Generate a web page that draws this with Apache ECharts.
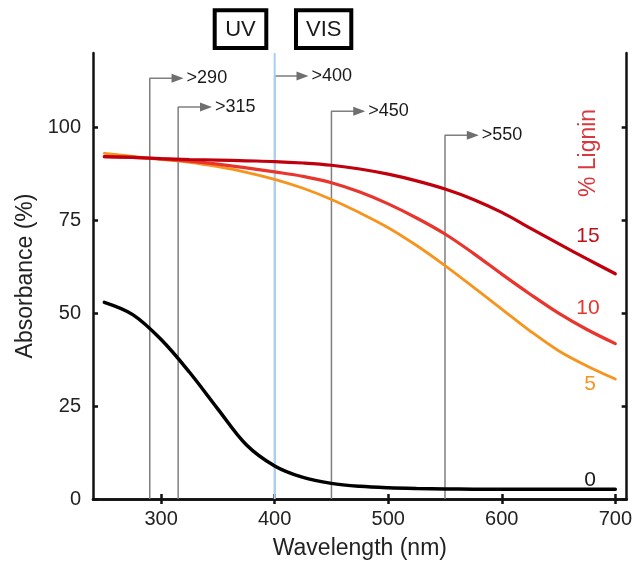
<!DOCTYPE html>
<html>
<head>
<meta charset="utf-8">
<script src="https://cdn.jsdelivr.net/npm/echarts@6/dist/echarts.min.js"></script>
<style>html,body{margin:0;padding:0;background:#fff;}#c{width:635px;height:565px;}</style>
</head>
<body>
<div id="c"></div>
<script>
// ---- data ----
const wavelengths = [250, 275, 300, 325, 350, 375, 400, 425, 450, 475, 500, 525, 550, 575, 600, 625, 650, 675, 700];
const lignin15 = [92.1, 91.9, 91.6, 91.35, 91.2, 91.0, 90.8, 90.4, 89.8, 88.8, 87.4, 85.6, 83.4, 80.6, 77.1, 72.9, 68.7, 64.6, 60.6];
const lignin10 = [92.1, 91.9, 91.5, 90.9, 90.1, 89.1, 88.0, 86.8, 85.1, 82.6, 79.4, 75.6, 71.3, 66.1, 60.5, 55.1, 50.0, 45.6, 41.8];
const lignin5  = [93.0, 92.2, 91.4, 90.6, 89.4, 87.9, 86.0, 83.6, 80.6, 77.0, 73.0, 68.2, 62.8, 57.0, 51.1, 45.2, 39.9, 35.8, 32.3];
const lignin0  = [52.9, 49.6, 42.9, 34.1, 24.2, 14.6, 8.9, 5.8, 4.2, 3.4, 3.0, 2.8, 2.7, 2.65, 2.6, 2.6, 2.6, 2.6, 2.6];
const cutoffWavelengths = [290, 315, 400, 450, 550];
const cutoffLevels = [113.2, 105.5, 113.8, 104.3, 97.9];
const cutoffLabels = ['>290', '>315', '>400', '>450', '>550'];
const xTicks = [300, 400, 500, 600, 700];
const yTicks = [0, 25, 50, 75, 100];
const uvVisBoundary = 400;

// ---- chart ----
const FONT = 'Liberation Sans, Arial, sans-serif';
const chart = echarts.init(document.getElementById('c'), null, {renderer: 'canvas'});
const pairs = (ys) => wavelengths.map((w, i) => [w, ys[i]]);
const arrowLen = 24.5;

const series = [];
cutoffWavelengths.forEach((w, i) => {
  series.push({
    type: 'line', symbol: 'none', showSymbol: true, silent: true, animation: false,
    lineStyle: {color: '#7f7f7f', width: 1.5}, z: 1,
    data: [
      [w, 0], [w, cutoffLevels[i]],
      {value: [w + arrowLen, cutoffLevels[i]], symbol: 'triangle', symbolSize: [9, 12], symbolRotate: -90,
       itemStyle: {color: '#6f6f6f'},
       label: {show: true, position: 'right', distance: 3, formatter: cutoffLabels[i], color: '#1a1a1a', fontSize: 18, fontFamily: FONT}}
    ]
  });
});
series.push({
  type: 'line', symbol: 'none', silent: true, animation: false, z: 2,
  lineStyle: {color: '#a9d0f2', width: 2},
  data: [[uvVisBoundary, 0], [uvVisBoundary, 120]]
});
const curve = (ys, color, width) => ({
  type: 'line', symbol: 'none', smooth: 0.35, animation: false, z: 5,
  lineStyle: {color: color, width: width, cap: 'round'}, data: pairs(ys)
});
series.push(curve(lignin0, '#000000', 3.5));
series.push(curve(lignin5, '#f7941d', 2.8));
series.push(curve(lignin10, '#e8352e', 3.2));
series.push(curve(lignin15, '#c0000c', 3.2));

const axisLineStyle = {color: '#111', width: 2.5};
const tickStyle = {inside: true, length: 5, lineStyle: {color: '#111', width: 2.5}};

chart.setOption({
  backgroundColor: '#fff',
  animation: false,
  grid: {left: 93, right: 8, top: 53, bottom: 65, containLabel: false},
  xAxis: [
    {type: 'value', min: 240, max: 710, position: 'bottom',
     name: 'Wavelength (nm)', nameLocation: 'middle', nameGap: 38,
     nameTextStyle: {fontSize: 23, color: '#222', fontFamily: FONT},
     axisLine: {lineStyle: axisLineStyle},
     axisTick: Object.assign({customValues: xTicks}, tickStyle),
     axisLabel: {customValues: xTicks, fontSize: 20, color: '#222', margin: 10, fontFamily: FONT},
     splitLine: {show: false}},
    {type: 'value', min: 240, max: 710, position: 'top',
     axisLine: {lineStyle: axisLineStyle},
     axisTick: Object.assign({customValues: xTicks}, tickStyle),
     axisLabel: {show: false}, splitLine: {show: false}}
  ],
  yAxis: [
    {type: 'value', min: 0, max: 120, position: 'left',
     name: 'Absorbance (%)', nameLocation: 'middle', nameGap: 54, nameRotate: 90,
     nameTextStyle: {fontSize: 23, color: '#222', fontFamily: FONT},
     axisLine: {show: true, lineStyle: axisLineStyle},
     axisTick: Object.assign({customValues: yTicks}, tickStyle),
     axisLabel: {customValues: yTicks, fontSize: 20, color: '#222', margin: 12, fontFamily: FONT},
     splitLine: {show: false}},
    {type: 'value', min: 0, max: 120, position: 'right',
     axisLine: {show: true, lineStyle: axisLineStyle},
     axisTick: Object.assign({customValues: yTicks}, tickStyle),
     axisLabel: {show: false}, splitLine: {show: false}}
  ],
  series: series,
  graphic: [
    {type: 'rect', shape: {x: 214.7, y: 10.3, width: 51.6, height: 37.7}, style: {fill: '#fff', stroke: '#000', lineWidth: 4}},
    {type: 'text', x: 240.5, y: 30, style: {text: 'UV', fill: '#1a1a1a', font: '22px ' + FONT, align: 'center', verticalAlign: 'middle'}},
    {type: 'rect', shape: {x: 296, y: 10.3, width: 55.3, height: 37.7}, style: {fill: '#fff', stroke: '#000', lineWidth: 4}},
    {type: 'text', x: 323.7, y: 30, style: {text: 'VIS', fill: '#1a1a1a', font: '22px ' + FONT, align: 'center', verticalAlign: 'middle'}},
    {type: 'text', x: 589, y: 153, rotation: Math.PI / 2, style: {text: '% Lignin', fill: '#d8393e', font: '23px ' + FONT, align: 'center', verticalAlign: 'middle'}},
    {type: 'text', x: 588, y: 236, style: {text: '15', fill: '#c0101a', font: '21px ' + FONT, align: 'center', verticalAlign: 'middle'}},
    {type: 'text', x: 588, y: 308, style: {text: '10', fill: '#e8352e', font: '21px ' + FONT, align: 'center', verticalAlign: 'middle'}},
    {type: 'text', x: 590, y: 384, style: {text: '5', fill: '#f7941d', font: '21px ' + FONT, align: 'center', verticalAlign: 'middle'}},
    {type: 'text', x: 590, y: 480, style: {text: '0', fill: '#1a1a1a', font: '21px ' + FONT, align: 'center', verticalAlign: 'middle'}}
  ]
});
</script>
</body>
</html>
